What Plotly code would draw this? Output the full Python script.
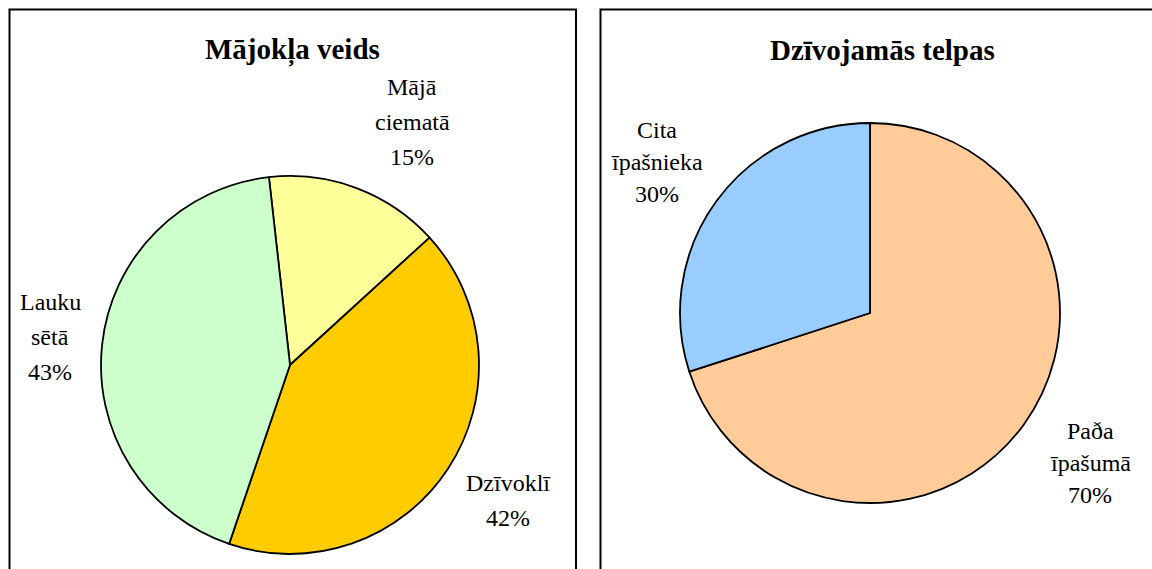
import plotly.graph_objects as go

W, H = 1152, 569

# Data
left_title = "Mājokļa veids"
left_labels = ["Mājā ciematā", "Dzīvoklī", "Lauku sētā"]
left_values = [15, 42, 43]
left_colors = ["#FFFF99", "#FFCC00", "#CCFFCC"]

right_title = "Dzīvojamās telpas"
right_labels = ["Paða īpašumā", "Cita īpašnieka"]
right_values = [70, 30]
right_colors = ["#FFCC99", "#99CCFF"]

FONT = "Liberation Serif, Times New Roman, serif"


def px_x(x):
    return x / W


def px_y(y):
    return 1 - y / H


fig = go.Figure()


def add_pie(labels, values, colors, cx, cy, r, rotation):
    fig.add_trace(go.Pie(
        labels=labels, values=values, sort=False, direction="clockwise",
        rotation=rotation, textinfo="none", hoverinfo="label+percent",
        marker=dict(colors=colors, line=dict(color="black", width=1.8)),
        domain=dict(x=[px_x(cx - r), px_x(cx + r)], y=[px_y(cy + r), px_y(cy - r)]),
        showlegend=False,
    ))


add_pie(left_labels, left_values, left_colors, 290, 365, 189, -6.4)
add_pie(right_labels, right_values, right_colors, 870, 313, 190, 0)

annotations = []

# Titles
annotations.append(dict(text="<b>" + left_title + "</b>", x=px_x(292), y=px_y(50),
                        xref="paper", yref="paper", showarrow=False,
                        font=dict(family=FONT, size=29, color="black"),
                        xanchor="center", yanchor="middle"))
annotations.append(dict(text="<b>" + right_title + "</b>", x=px_x(882), y=px_y(50),
                        xref="paper", yref="paper", showarrow=False,
                        font=dict(family=FONT, size=29, color="black"),
                        xanchor="center", yanchor="middle"))

# Label placement (pixel centre x, first-line y, line spacing)
label_pos = {
    "Mājā ciematā": (412, 87, 35),
    "Lauku sētā": (50, 302, 35),
    "Dzīvoklī": (508, 483, 35),
    "Cita īpašnieka": (657, 130, 32),
    "Paða īpašumā": (1090, 431, 32),
}


def add_labels(labels, values):
    total = sum(values)
    for lab, v in zip(labels, values):
        lines = lab.split(" ") + [f"{round(v / total * 100)}%"]
        cx, y0, dy = label_pos[lab]
        for i, t in enumerate(lines):
            annotations.append(dict(text=t, x=px_x(cx), y=px_y(y0 + i * dy),
                                    xref="paper", yref="paper", showarrow=False,
                                    font=dict(family=FONT, size=24, color="black"),
                                    xanchor="center", yanchor="middle"))


add_labels(left_labels, left_values)
add_labels(right_labels, right_values)

shapes = [
    dict(type="rect", xref="paper", yref="paper",
         x0=px_x(9.5), x1=px_x(576), y0=-0.1, y1=px_y(9.5),
         line=dict(color="black", width=2), layer="below"),
    dict(type="rect", xref="paper", yref="paper",
         x0=px_x(600.5), x1=1.1, y0=-0.1, y1=px_y(9.5),
         line=dict(color="black", width=2), layer="below"),
]

fig.update_layout(
    width=W, height=H,
    margin=dict(l=0, r=0, t=0, b=0),
    paper_bgcolor="white", plot_bgcolor="white",
    annotations=annotations, shapes=shapes,
)

fig.write_html("out.html", config={"displayModeBar": False},
               post_script="document.body.style.margin='0';")
